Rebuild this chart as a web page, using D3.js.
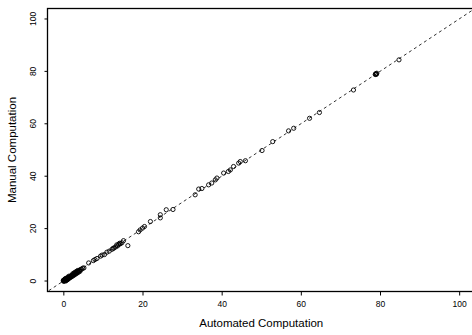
<!DOCTYPE html>
<html>
<head>
<meta charset="utf-8">
<script src="https://cdn.jsdelivr.net/npm/d3@7"></script>
<style>
  html, body { margin: 0; padding: 0; background: #fff; }
  svg { display: block; }
  text { font-family: "Liberation Sans", Arial, Helvetica, sans-serif; fill: #000; }
</style>
</head>
<body>
<svg id="chart" width="472" height="335"></svg>
<script>
// Data
const automated = [
  0.0, 0.0, 0.1, 0.2, 0.3, 0.4, 0.5, 0.5, 0.6, 0.7, 0.8, 0.9, 1.0, 1.1, 1.2, 1.3, 1.4, 1.5, 1.7, 1.9,
  2.1, 2.3, 2.5, 2.7, 2.9, 3.1, 3.3, 3.5, 3.7, 3.9, 4.1, 4.3, 4.6, 4.9, 5.2, 0.2, 0.4, 0.6, 0.8, 1.0,
  1.2, 0.3, 0.7, 1.6, 2.0,
  0.9, 1.3, 1.8, 2.2, 2.6, 3.0, 3.4, 3.8, 4.2, 0.5, 1.1, 1.5, 2.4, 2.8, 3.2, 3.6, 1.0, 0.6,
  6.4, 7.6, 8.0, 8.5, 9.4, 9.8, 10.4, 11.0, 11.6, 12.3, 12.6, 13.2, 13.7, 14.0, 14.4, 14.8, 15.2, 16.3,
  12.8, 13.5, 14.2,
  19.0, 19.4, 20.0, 20.5, 22.0, 24.5, 24.5, 26.0, 27.7,
  33.3, 34.2, 35.0, 36.7, 37.5, 38.4, 38.8, 40.5, 41.7, 42.2, 43.0, 44.3, 44.7, 46.0,
  50.2, 52.9, 56.9, 58.2, 62.2, 64.7, 73.3, 78.8, 79.0, 79.2, 78.9, 79.1, 84.8
];
const manual = [
  0.0, 0.3, 0.0, 0.4, 0.1, 0.6, 0.3, 0.8, 0.5, 0.9, 0.6, 1.0, 1.0, 0.9, 1.2, 1.1, 1.5, 1.3, 1.7, 1.8,
  2.0, 2.4, 2.3, 2.8, 2.7, 3.1, 3.2, 3.6, 3.6, 4.0, 4.0, 4.4, 4.5, 4.9, 5.0, 0.0, 0.2, 0.3, 0.5, 0.7,
  0.8, 0.5, 0.4, 1.4, 1.9,
  0.4, 0.8, 1.3, 1.7, 2.1, 2.5, 2.9, 3.3, 3.7, 0.9, 1.5, 1.9, 2.8, 3.2, 3.6, 4.0, 0.5, 0.0,
  6.9, 7.8, 8.2, 8.6, 9.5, 9.9, 10.1, 11.0, 11.4, 12.1, 12.5, 13.0, 13.4, 14.0, 14.2, 14.6, 15.4, 13.5,
  12.6, 13.8, 14.4,
  18.8, 19.5, 20.2, 20.8, 22.7, 24.1, 25.3, 27.2, 27.3,
  32.9, 35.1, 35.3, 36.7, 37.4, 38.6, 39.3, 41.2, 41.8, 42.4, 43.7, 45.0, 45.6, 45.9,
  49.8, 53.2, 57.3, 58.3, 62.1, 64.3, 72.9, 78.8, 79.0, 79.3, 79.1, 78.9, 84.4
];
const xTicks = [0, 20, 40, 60, 80, 100];
const yTicks = [0, 20, 40, 60, 80, 100];
const xTitle = "Automated Computation";
const yTitle = "Manual Computation";

(function () {
const svg = d3.select("#chart");
const pLeft = 47.5, pRight = 475, pTop = 8.5, pBottom = 291.5;

const x = d3.scaleLinear().domain([-4, 104]).range([pLeft, pRight]);
const y = d3.scaleLinear().domain([-4, 104]).range([pBottom, pTop]);

svg.append("clipPath").attr("id", "clip")
  .append("rect").attr("x", pLeft).attr("y", pTop)
  .attr("width", pRight - pLeft).attr("height", pBottom - pTop);

// identity dashed line
const line = d3.line().x(d => x(d)).y(d => y(d));
svg.append("path")
  .attr("clip-path", "url(#clip)")
  .attr("d", line([-10, 110]))
  .attr("fill", "none")
  .attr("stroke", "#333")
  .attr("stroke-width", 1)
  .attr("stroke-dasharray", "3,3");

// points
const pts = automated.map((a, i) => [a, manual[i]]);
svg.append("g").selectAll("circle").data(pts).join("circle")
  .attr("cx", d => x(d[0]))
  .attr("cy", d => y(d[1]))
  .attr("r", 2.1)
  .attr("fill", "none")
  .attr("stroke", "#000")
  .attr("stroke-width", 0.9);

// frame (box; right edge lies beyond the view)
svg.append("rect")
  .attr("x", pLeft).attr("y", pTop)
  .attr("width", pRight - pLeft).attr("height", pBottom - pTop)
  .attr("fill", "none").attr("stroke", "#000").attr("stroke-width", 1.3);

// x axis
const xAxis = d3.axisBottom(x).tickValues(xTicks).tickSize(4).tickPadding(5).tickSizeOuter(0);
const gx = svg.append("g").attr("transform", `translate(0,${pBottom})`).call(xAxis);
gx.select(".domain").remove();
gx.selectAll("text").style("font-size", "8.5px").attr("font-family", null);

// y axis
const yAxis = d3.axisLeft(y).tickValues(yTicks).tickSize(3).tickPadding(0).tickSizeOuter(0);
const gy = svg.append("g").attr("transform", `translate(${pLeft},0)`).call(yAxis);
gy.select(".domain").remove();
gy.selectAll(".tick").attr("transform", null);
gy.selectAll(".tick line").attr("y1", d => y(d)).attr("y2", d => y(d));
gy.selectAll("text")
  .style("font-size", "8.5px")
  .attr("x", null).attr("dy", null).attr("y", null)
  .attr("text-anchor", "middle")
  .attr("transform", d => `translate(-12,${y(d)}) rotate(-90)`);

// titles
svg.append("text")
  .attr("x", (pLeft + pRight) / 2).attr("y", 327)
  .attr("text-anchor", "middle")
  .style("font-size", "11.5px")
  .text(xTitle);

svg.append("text")
  .attr("transform", `translate(16,${(pTop + pBottom) / 2}) rotate(-90)`)
  .attr("text-anchor", "middle")
  .style("font-size", "11.5px")
  .text(yTitle);
})();
</script>
</body>
</html>
